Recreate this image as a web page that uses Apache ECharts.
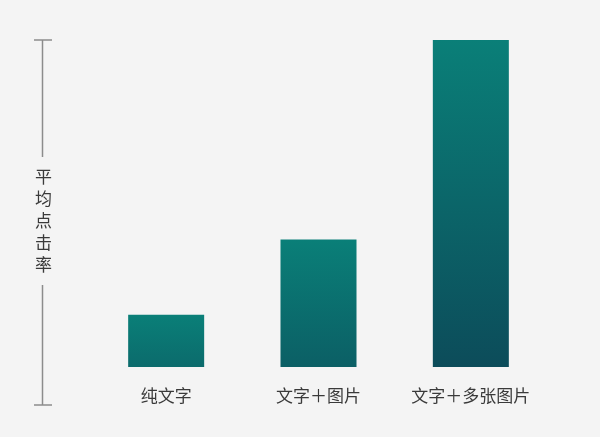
<!DOCTYPE html>
<html>
<head>
<meta charset="utf-8">
<script src="https://cdn.jsdelivr.net/npm/echarts@6/dist/echarts.min.js"></script>
<style>
html,body{margin:0;padding:0;background:#f4f4f4;}
#chart{width:600px;height:437px;}
</style>
</head>
<body>
<div id="chart"></div>
<script>
const categories = ['纯文字', '文字＋图片', '文字＋多张图片'];
const values = [16, 39, 100];
const axisTitle = '平均点击率';

const chart = echarts.init(document.getElementById('chart'));
const maxVal = 100;
const topColor = [10, 127, 120];
const darkColor = [12, 76, 90];
function mix(f) {
  const c = topColor.map((t, i) => Math.round(t + (darkColor[i] - t) * f));
  return 'rgb(' + c.join(',') + ')';
}
const grey = '#8c8c8c';
chart.setOption({
  backgroundColor: '#f4f4f4',
  grid: { left: 90, right: 53, top: 40, bottom: 70 },
  xAxis: {
    type: 'category',
    data: categories,
    axisLine: { show: false },
    axisTick: { show: false },
    axisLabel: { interval: 0, color: '#3a3a3a', fontSize: 17, margin: 20, fontFamily: 'Noto Sans CJK SC' }
  },
  yAxis: {
    type: 'value', min: 0, max: maxVal,
    show: false
  },
  series: [{
    type: 'bar',
    barWidth: 76,
    data: values,
    itemStyle: {
      color: function (p) {
        const f = Math.sqrt(p.value / maxVal);
        return new echarts.graphic.LinearGradient(0, 0, 0, 1, [
          { offset: 0, color: mix(0) },
          { offset: 1, color: mix(f) }
        ]);
      }
    }
  }],
  graphic: [
    { type: 'line', shape: { x1: 42.5, y1: 40, x2: 42.5, y2: 157 }, style: { stroke: grey, lineWidth: 1.5 } },
    { type: 'line', shape: { x1: 42.5, y1: 285, x2: 42.5, y2: 405 }, style: { stroke: grey, lineWidth: 1.5 } },
    { type: 'line', shape: { x1: 34, y1: 40, x2: 52, y2: 40 }, style: { stroke: grey, lineWidth: 1.5 } },
    { type: 'line', shape: { x1: 34, y1: 405, x2: 52, y2: 405 }, style: { stroke: grey, lineWidth: 1.5 } },
    { type: 'text', left: 35, top: 166, style: { text: axisTitle.split('').join('\n'), fill: '#3a3a3a', fontSize: 17, lineHeight: 22, fontFamily: 'Noto Sans CJK SC', align: 'center' } }
  ]
});
</script>
</body>
</html>
